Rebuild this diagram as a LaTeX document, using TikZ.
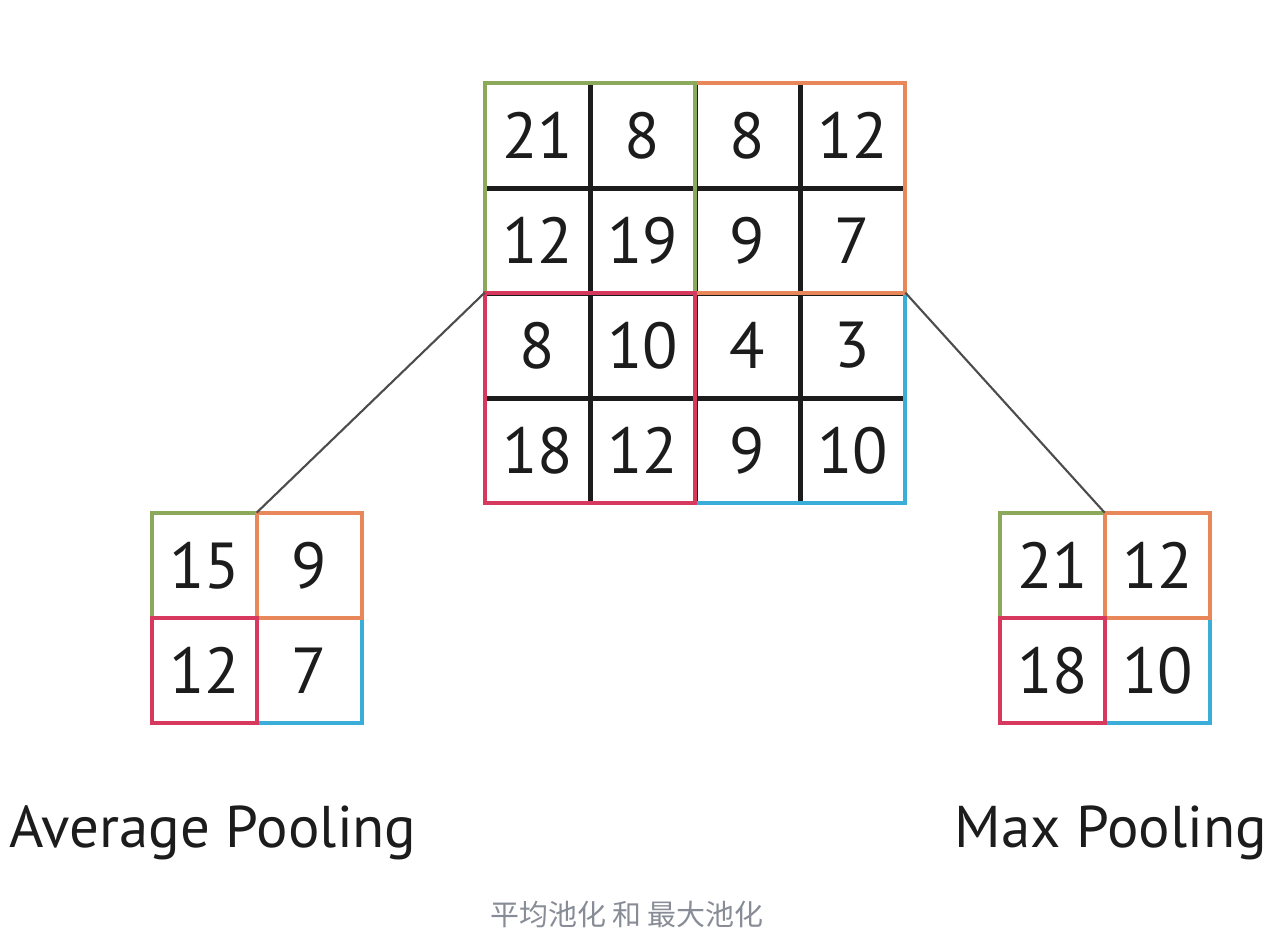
\documentclass[tikz,border=0pt]{standalone}
\usepackage{fontspec}
\setmainfont{PT Sans}
\newfontfamily\cjkfont{Noto Sans CJK SC}
\usetikzlibrary{positioning}
\definecolor{poolGreen}{HTML}{8CA95B}
\definecolor{poolOrange}{HTML}{E8875A}
\definecolor{poolRed}{HTML}{D6395D}
\definecolor{poolBlue}{HTML}{3AADD9}
\definecolor{inkDark}{HTML}{1C1C1C}
\definecolor{capGray}{HTML}{878C96}
\tikzset{
  cell/.style={rectangle, minimum size=2.1cm, inner sep=0pt,
               font=\fontsize{37}{40}\selectfont, text=inkDark},
  gridLine/.style={inkDark, line width=2.8pt},
  blockG/.style={draw=poolGreen, line width=2.2pt},
  blockO/.style={draw=poolOrange, line width=2.2pt},
  blockR/.style={draw=poolRed, line width=2.2pt},
  blockB/.style={draw=poolBlue, line width=2.2pt},
  link/.style={draw=black!70, line width=1.2pt},
  poolTitle/.style={font=\fontsize{33.5}{40}\selectfont, text=inkDark, inner sep=0pt},
}

\begin{document}
\begin{tikzpicture}[x=0.02cm, y=-0.02cm]
    \useasboundingbox (0,0) rectangle (1286,940);
    % mapa de entrada 4x4
    \foreach \r/\row in {1/{21,8,8,12},2/{12,19,9,7},3/{8,10,4,3},4/{18,12,9,10}} {
      \foreach \v [count=\c] in \row {
        \node[cell] (m\r\c) at ({485+105*(\c-0.5)}, {83+105*(\r-0.5)}) {\v};
      }
    }
    % salidas 2x2
    \foreach \r/\row in {1/{15,9},2/{12,7}} {
      \foreach \v [count=\c] in \row {
        \node[cell] (a\r\c) at ({152+105*(\c-0.5)}, {513+105*(\r-0.5)}) {\v};
      }
    }
    \foreach \r/\row in {1/{21,12},2/{18,10}} {
      \foreach \v [count=\c] in \row {
        \node[cell] (x\r\c) at ({1000+105*(\c-0.5)}, {513+105*(\r-0.5)}) {\v};
      }
    }
    % lineas internas
    \foreach \i in {1,2,3} {
      \draw[gridLine] (m1\i.north east) -- (m4\i.south east);
      \draw[gridLine] (m\i1.south west) -- (m\i4.south east);
    }
    % bloques de color
    \draw[blockB] (m33.north west) rectangle (m44.south east);
    \draw[blockO] (m13.north west) rectangle (m24.south east);
    \draw[blockG] (m11.north west) rectangle (m22.south east);
    \draw[blockR] (m31.north west) rectangle (m42.south east);
    \foreach \g in {a,x} {
      \draw[blockB] (\g22.north west) rectangle (\g22.south east);
      \draw[blockG] (\g11.north west) rectangle (\g11.south east);
      \draw[blockO] (\g12.north west) rectangle (\g12.south east);
      \draw[blockR] (\g21.north west) rectangle (\g21.south east);
    }
    % lineas de union
    \draw[link] (m31.north west) -- (a12.north west);
    \draw[link] (m34.north east) -- (x12.north west);
    % titulos
    \node[poolTitle, anchor=base] (avgT) at (213,847) {Average Pooling};
    \node[poolTitle, anchor=base] (maxT) at (1111,847) {Max Pooling};
    \node[font=\cjkfont\fontsize{16.5}{20}\selectfont, text=capGray] (cap) at (627,915)
      {平均池化 和 最大池化};
  \end{tikzpicture}
\end{document}
